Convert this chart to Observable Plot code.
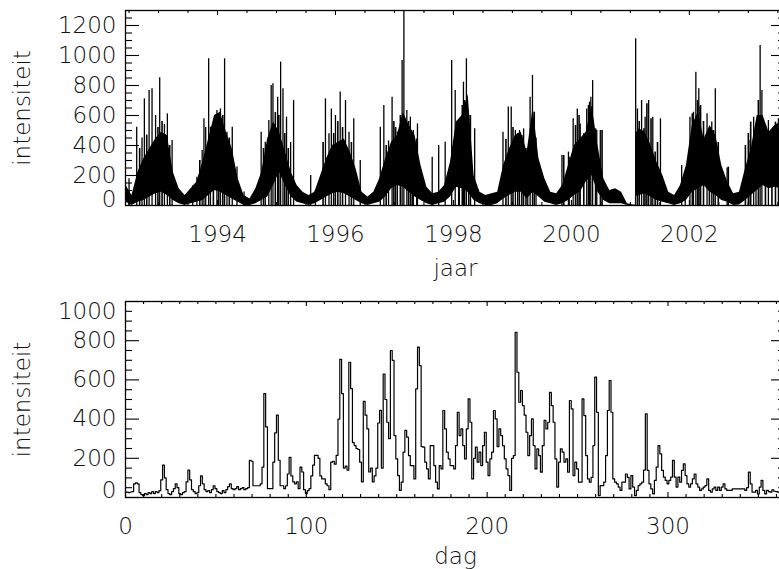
<!DOCTYPE html>
<html><head><meta charset="utf-8">
<script src="https://cdn.jsdelivr.net/npm/d3@7"></script>
<script src="https://cdn.jsdelivr.net/npm/@observablehq/plot@0.6"></script>
<style>
html,body{margin:0;padding:0;background:#fff;overflow:hidden;}
#wrap{position:relative;width:779px;height:569px;overflow:hidden;background:#fff;}
#top{position:absolute;left:0;top:0;width:800px;}
#bot{position:absolute;left:0;top:285px;width:800px;}
svg{max-width:none !important;}
</style></head><body><div id="wrap"><div id="top"></div><div id="bot"></div></div>
<script>
// ---------- top panel: dense daily series, read as envelope band + isolated spikes ----------
const bandYear = [1992.45,1992.55,1992.65,1992.75,1992.85,1992.95,
  1993.05,1993.15,1993.25,1993.35,1993.45,1993.55,1993.65,1993.75,1993.85,1993.95,
  1994.05,1994.15,1994.25,1994.35,1994.45,1994.55,1994.65,1994.75,1994.85,1994.95,
  1995.05,1995.15,1995.25,1995.35,1995.45,1995.55,1995.65,1995.75,1995.85,1995.95,
  1996.05,1996.15,1996.25,1996.35,1996.45,1996.55,1996.65,1996.75,1996.85,1996.95,
  1997.05,1997.15,1997.25,1997.35,1997.45,1997.55,1997.65,1997.75,1997.85,1997.95,
  1998.05,1998.15,1998.25,1998.35,1998.45,1998.55,1998.65,1998.75,1998.85,1998.95,
  1999.05,1999.15,1999.25,1999.35,1999.45,1999.55,1999.65,1999.75,1999.85,1999.95,
  2000.05,2000.15,2000.25,2000.35,2000.45,2000.55,2000.65,2000.75,2000.85,2000.95,
  2001.05,2001.085,2001.095,2001.15,2001.25,2001.35,2001.45,2001.55,2001.65,2001.75,2001.85,2001.95,
  2002.05,2002.15,2002.25,2002.35,2002.45,2002.55,2002.65,2002.75,2002.85,2002.95,
  2003.05,2003.15,2003.25,2003.35,2003.45,2003.55,2003.65];
const bandHigh = [133,67,222,311,378,444,
  489,467,222,111,67,111,156,289,444,600,
  622,489,378,178,67,44,111,222,444,556,
  489,356,222,133,89,67,89,200,311,400,
  422,444,356,244,89,56,89,178,311,422,
  467,622,533,467,267,122,78,89,133,289,
  556,600,740,200,89,67,78,89,267,378,
  467,489,356,650,311,178,89,78,133,267,
  400,444,489,667,400,178,100,111,89,11,
  4,4,480,511,489,400,289,200,89,67,133,267,
  533,622,444,533,467,267,156,78,89,244,
  378,600,600,489,533,556,540];
const bandLow = [22,0,22,33,56,78,
  89,67,33,11,0,11,22,33,67,100,
  89,67,44,22,0,0,11,33,56,133,
  222,133,56,22,11,0,11,33,56,78,
  89,78,56,33,11,0,11,22,56,111,
  133,122,89,56,33,11,0,11,22,56,
  122,111,89,33,11,0,0,11,44,67,
  89,89,44,89,56,22,11,0,11,33,
  67,89,156,200,89,33,11,11,11,0,
  0,0,60,67,78,56,33,22,11,0,11,33,
  89,111,133,89,67,33,22,0,4,33,
  67,100,133,111,122,111,110];
// tallest isolated daily peaks
const spikeYear = [1992.50,1992.63,1992.72,1992.76,1992.84,1992.89,1992.95,1993.02,1993.10,1993.15,1993.23,
  1993.58,1993.65,1993.74,1993.77,1993.80,1993.85,1993.88,1993.99,1994.05,1994.12,1994.16,1994.25,1994.33,1994.45,
  1994.74,1994.81,1994.87,1994.91,1994.94,1995.02,1995.07,1995.11,1995.17,1995.24,1995.29,1995.58,1995.66,
  1995.83,1995.89,1995.93,1996.00,1996.08,1996.17,1996.23,1996.31,1996.42,
  1996.76,1996.82,1996.90,1996.96,1997.05,1997.13,1997.16,1997.21,1997.27,1997.32,1997.39,1997.64,1997.75,1997.86,
  1997.97,1998.03,1998.10,1998.17,1998.22,1998.29,1998.36,
  1998.84,1998.93,1998.98,1999.05,1999.12,1999.19,1999.30,1999.34,1999.40,
  1999.84,1999.95,2000.03,2000.10,2000.15,2000.26,2000.33,2000.36,2000.43,2000.49,
  2001.09,2001.12,2001.19,2001.25,2001.31,2001.38,2001.51,
  2001.87,2001.93,2002.01,2002.07,2002.11,2002.16,2002.18,2002.30,2002.38,2002.44,2002.64,
  2003.03,2003.09,2003.20,2003.23,2003.34,2003.51];
const spikeValue = [178,522,450,711,767,778,600,851,540,611,433,
  130,189,367,578,520,978,522,633,644,978,489,522,256,90,
  489,422,567,800,811,722,956,778,589,420,700,200,100,
  711,478,644,600,756,700,489,578,300,
  522,667,430,722,490,967,1300,633,589,500,544,322,400,422,
  967,767,560,822,978,600,511,
  489,656,656,500,500,511,722,867,450,
  333,356,578,644,544,644,722,833,500,500,
  1111,644,700,589,700,589,578,
  267,200,589,622,889,778,656,611,556,778,250,
  433,589,1067,767,567,578];
// secondary peaks poking out of the dense mass
const peak2Year = [1992.68,1992.80,1992.99,1993.06,1993.19,1993.70,1993.93,1994.02,1994.09,1994.20,
  1994.78,1994.98,1995.04,1995.14,1995.20,1995.79,1995.97,1996.04,1996.12,1996.27,
  1996.86,1996.99,1997.02,1997.10,1997.24,1997.30,1997.38,1998.09,1998.15,1998.19,1998.26,
  1998.89,1999.01,1999.09,1999.16,1999.23,1999.37,1999.87,1999.96,2000.07,2000.13,2000.21,2000.29,2000.31,2000.41,2000.52,
  2001.15,2001.23,2001.28,2001.35,2001.42,2001.46,2002.05,2002.14,2002.19,2002.24,2002.34,2002.41,2002.49,2002.66,
  2002.95,2003.00,2003.04,2003.17,2003.29,2003.40,2003.46];
const peak2Value = [380,470,520,560,400,300,520,560,600,450,
  380,620,600,480,380,420,480,560,520,420,
  400,560,520,600,560,480,444,489,667,700,600,
  440,520,480,467,380,622,333,322,533,600,478,667,689,511,500,
  560,511,678,578,356,420,611,700,667,560,480,500,420,256,
  400,480,556,700,533,480,556];
const dipYear = [1999.26, 2003.13];
const dipTop = [350, 300];

// ---------- bottom panel: one year of daily values ----------
const dayValue = [
  27,27,25,28,30,70,75,70,25,15,   10,20,15,25,20,30,20,30,25,35,
  90,165,100,40,20,15,30,45,70,50, 20,15,25,30,80,140,90,40,30,20,
  25,60,110,70,40,30,35,25,40,60,  45,30,25,20,35,25,40,55,70,45,
  40,45,55,40,45,50,40,45,50,190,  185,60,60,60,60,70,155,530,360,45,
  45,45,180,330,420,190,60,60,45,60, 120,205,110,80,70,80,45,155,130,40,
  20,35,45,110,165,215,215,200,110,95, 95,70,60,40,180,185,170,215,400,705,
  530,150,160,140,690,555,280,265,250,245, 180,80,490,420,350,130,150,80,110,150,
  380,445,150,630,500,384,300,750,700,316, 197,112,36,78,231,342,308,214,163,163,
  95,554,767,673,260,257,180,146,95,265, 265,163,78,44,163,146,444,350,231,197,
  163,163,146,265,435,316,350,265,197,350, 503,384,95,200,257,180,231,163,265,333,
  180,112,197,231,444,401,260,350,316,265, 197,146,112,36,200,214,843,639,486,546,
  469,420,333,214,316,401,265,146,248,214, 129,265,393,350,384,537,469,384,197,53,
  180,248,231,180,197,129,495,452,112,180, 146,78,78,503,418,214,95,78,103,265,
  614,435,10,61,61,78,214,444,597,435,     95,78,70,53,36,78,78,120,103,44,
  112,53,10,36,61,70,78,140,427,138,       70,44,19,87,155,265,223,138,104,87,
  70,87,104,189,104,53,104,78,138,172,     112,70,53,70,95,120,70,53,36,44,
  53,61,95,36,27,44,53,36,53,36,           53,70,44,36,36,36,44,44,44,44,
  44,44,44,36,50,129,70,27,27,36,          19,53,87,36,19,36,30,27,39,32,
  30,27,30,36,30,25];

// ---------- axes / ticks ----------
const yearMajor = [1994, 1996, 1998, 2000, 2002];
const yearMinor = [1992.5,1993,1993.5,1994.5,1995,1995.5,1996.5,1997,1997.5,1998.5,1999,1999.5,2000.5,2001,2001.5,2002.5,2003,2003.5];
const topYMajor = [0, 200, 400, 600, 800, 1000, 1200];
const topYMinor = [50,100,150,250,300,350,450,500,550,650,700,750,850,900,950,1050,1100,1150,1250];
const dayMajor = [0, 100, 200, 300];
const dayMinor = [10,20,30,40,50,60,70,80,90,110,120,130,140,150,160,170,180,190,210,220,230,240,250,260,270,280,290,310,320,330,340,350,360];
const botYMajor = [0, 200, 400, 600, 800, 1000];
const botYMinor = [50,100,150,250,300,350,450,500,550,650,700,750,850,900,950];

const FONT = "'DejaVu Sans', sans-serif";
const FS = 23;
const W = 800, ML = 125, MR = 15;
const PW = W - ML - MR;

function frameTicks(ph, xMaj, xMin, yMaj, yMin) {
  const xs = {stroke: "black", strokeWidth: 1.1};
  return [
    Plot.ruleX(xMaj, {x: d => d, insetTop: ph - 5, ...xs}),
    Plot.ruleX(xMaj, {x: d => d, insetBottom: ph - 5, ...xs}),
    Plot.ruleX(xMin, {x: d => d, insetTop: ph - 3, ...xs}),
    Plot.ruleX(xMin, {x: d => d, insetBottom: ph - 3, ...xs}),
    Plot.ruleY(yMaj, {y: d => d, insetRight: PW - 14, ...xs}),
    Plot.ruleY(yMaj, {y: d => d, insetLeft: PW - 14, ...xs}),
    Plot.ruleY(yMin, {y: d => d, insetRight: PW - 7, ...xs}),
    Plot.ruleY(yMin, {y: d => d, insetLeft: PW - 7, ...xs}),
    Plot.frame({stroke: "black", strokeWidth: 1.3})
  ];
}
// y labels: the lowest and highest labels sit slightly inside the frame, as in the reference
function labels(xMaj, yMaj, xTitle, titleDy, firstDy, lastDy) {
  const t = {fontSize: FS, fill: "#111", fontFamily: FONT, fontWeight: 200};
  const yl = {frameAnchor: "left", lineAnchor: "middle", dx: -9, textAnchor: "end", y: d => d, text: d => String(d), ...t};
  return [
    Plot.text(xMaj, {x: d => d, frameAnchor: "bottom", lineAnchor: "middle", dy: 29, text: d => String(d), ...t}),
    Plot.text(yMaj.slice(0, 1), {...yl, dy: firstDy}),
    Plot.text(yMaj.slice(1, -1), yl),
    Plot.text(yMaj.slice(-1), {...yl, dy: lastDy}),
    Plot.text([xTitle], {frameAnchor: "bottom", lineAnchor: "middle", dy: titleDy, textAnchor: "middle", text: d => d, ...t}),
    Plot.text(["intensiteit"], {frameAnchor: "left", lineAnchor: "middle", dx: -103, rotate: -90, textAnchor: "middle", text: d => d, ...t})
  ];
}

const band = bandYear.map((t, i) => ({t, lo: bandLow[i], hi: bandHigh[i]}));
const spikes = spikeYear.map((t, i) => ({t, v: spikeValue[i]}));
const peaks2 = peak2Year.map((t, i) => ({t, v: peak2Value[i]}));
const dips = dipYear.map((t, i) => ({t, v: dipTop[i]}));
const TH = 285, TMT = 10, TMB = 80;
const topPlot = Plot.plot({
  width: W, height: TH, marginLeft: ML, marginRight: MR, marginTop: TMT, marginBottom: TMB,
  style: {fontFamily: FONT, background: "white", maxWidth: "none"},
  x: {domain: [1992.44, 2003.63], axis: null},
  y: {domain: [0, 1300], axis: null},
  marks: [
    Plot.areaY(band, {x: "t", y1: "lo", y2: "hi", fill: "black", clip: true}),
    Plot.ruleX(peaks2, {x: "t", y1: 0, y2: "v", stroke: "black", strokeWidth: 1.6, clip: true}),
    Plot.ruleX(spikes, {x: "t", y1: 0, y2: "v", stroke: "black", strokeWidth: 1.3, clip: true}),
    Plot.ruleX(dips, {x: "t", y1: 0, y2: "v", stroke: "black", strokeWidth: 1.3, clip: true}),
    ...frameTicks(TH - TMT - TMB, yearMajor, yearMinor, topYMajor, topYMinor),
    ...labels(yearMajor, topYMajor, "jaar", 63, -6, 0)
  ]
});
document.getElementById("top").appendChild(topPlot);

const days = dayValue.map((v, i) => ({d: i, v}));
const BH = 284, BMT = 16, BMB = 72;
const botPlot = Plot.plot({
  width: W, height: BH, marginLeft: ML, marginRight: MR, marginTop: BMT, marginBottom: BMB,
  style: {fontFamily: FONT, background: "white", maxWidth: "none"},
  x: {domain: [0, 365], axis: null},
  y: {domain: [0, 1000], axis: null},
  marks: [
    Plot.line(days, {x: "d", y: "v", curve: "step", stroke: "black", strokeWidth: 1.2, clip: true}),
    ...frameTicks(BH - BMT - BMB, dayMajor, dayMinor, botYMajor, botYMinor),
    ...labels(dayMajor, botYMajor, "dag", 59, -7, 10)
  ]
});
document.getElementById("bot").appendChild(botPlot);
</script></body></html>
